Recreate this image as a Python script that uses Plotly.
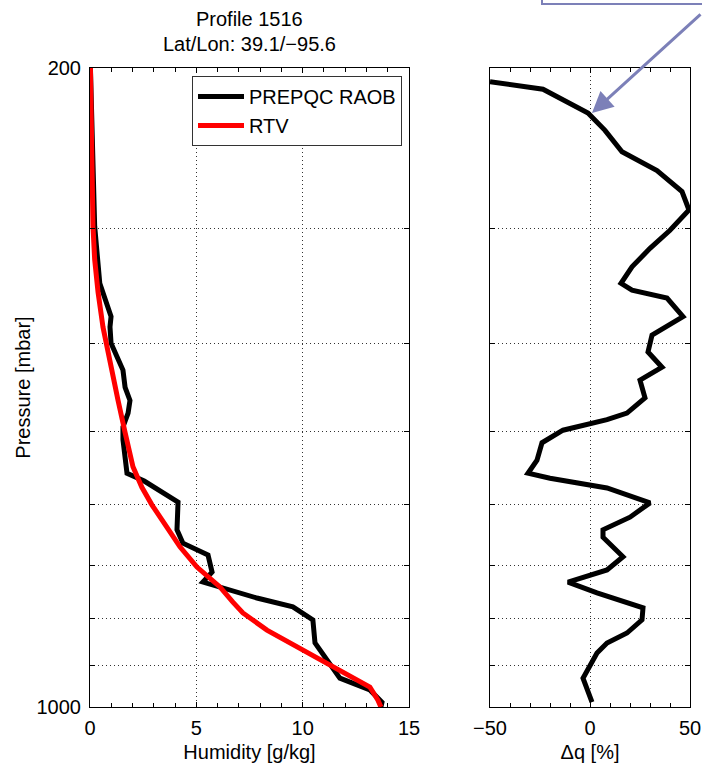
import math
import plotly.graph_objects as go

# ---------------- data ----------------
p_raob = [200, 274, 298, 344, 365, 374, 384, 400, 414, 428, 447, 462, 477, 494, 510, 533, 555,
          566, 597, 640, 662, 682, 712, 730, 741, 760, 777, 803, 851, 904, 930, 958, 988, 1000]
q_raob = [0.02, 0.14, 0.22, 0.46, 0.85, 0.99, 0.94, 0.99, 1.27, 1.55, 1.65, 1.88, 1.79, 1.55, 1.55,
          1.65, 1.74, 2.55, 4.14, 4.09, 4.37, 5.55, 5.74, 5.31, 6.25, 7.85, 9.54, 10.48, 10.58,
          11.42, 11.75, 13.16, 13.73, 13.68]

p_rtv = [200, 252, 298, 324, 352, 384, 410, 425, 462, 501, 546, 575, 601, 636, 668, 703, 739,
         768, 789, 824, 860, 904, 951, 983, 1000]
q_rtv = [0.02, 0.07, 0.14, 0.22, 0.38, 0.61, 0.85, 0.99, 1.32, 1.65, 2.02, 2.44, 2.91, 3.62, 4.23,
         5.03, 6.11, 6.72, 7.19, 8.32, 9.73, 11.42, 13.16, 13.54, 13.68]

p_dq = [207, 211, 224, 234, 247, 259, 273, 286, 301, 315, 330, 344, 350, 357, 374, 392, 409, 425,
        439, 448, 459, 477, 485, 498, 514, 537, 555, 562, 576, 598, 620, 640, 652, 685, 708, 730,
        750, 779, 803, 830, 851, 873, 930, 988]
dq = [-50, -23.5, -1, 7.5, 16, 33.5, 46, 49.5, 40, 30, 21, 15.5, 21, 38.5, 46.5, 31, 29, 36, 25,
      26, 27.5, 18.5, 8.5, -13.5, -24, -26.5, -31, -20, 8.5, 30, 20, 6.5, 6.5, 16.5, 8.5, -11,
      3.5, 26.5, 26, 18.5, 8.5, 3.5, -3.5, 1]

p_ticks = [200, 300, 400, 500, 600, 700, 800, 900, 1000]
p_ticktext = ["200", "", "", "", "", "", "", "", "1000"]
q_ticks = [0, 5, 10, 15]
dq_ticks = [-50, 0, 50]

title_lines = ["Profile 1516", "Lat/Lon: 39.1/\u221295.6"]

# ---------------- figure ----------------
FONT = "Liberation Sans, Arial, Helvetica, sans-serif"
FS = 20
W, H = 702, 767
ML, MR, MT, MB = 90, 12, 68, 60
PW = W - ML - MR
PH = H - MT - MB
ARROW_COL = "#7c80b8"
LW = 5

fig = go.Figure()
fig.add_trace(go.Scatter(x=q_raob, y=p_raob, mode="lines", name="PREPQC RAOB",
                         line=dict(color="black", width=LW), xaxis="x", yaxis="y"))
fig.add_trace(go.Scatter(x=q_rtv, y=p_rtv, mode="lines", name="RTV",
                         line=dict(color="#ff0000", width=LW), xaxis="x", yaxis="y"))
fig.add_trace(go.Scatter(x=dq, y=p_dq, mode="lines", showlegend=False,
                         line=dict(color="black", width=LW), xaxis="x2", yaxis="y2"))

common_axis = dict(showline=True, linecolor="black", linewidth=1, mirror="allticks",
                   ticks="inside", ticklen=5, tickcolor="black", zeroline=False,
                   automargin=False,
                   showgrid=True, gridcolor="#333333", gridwidth=1, griddash="1px,3px",
                   tickfont=dict(family=FONT, size=FS, color="black"))

yrange = [math.log10(1000), math.log10(200)]

fig.update_layout(
    width=W, height=H,
    margin=dict(l=ML, r=MR, t=MT, b=MB),
    paper_bgcolor="white", plot_bgcolor="white",
    font=dict(family=FONT, size=FS, color="black"),
    showlegend=True,
    legend=dict(x=(402 - ML) / PW, xanchor="right", y=1 - (76 - MT) / PH, yanchor="top",
                bgcolor="white", bordercolor="#333333", borderwidth=1, itemwidth=46,
                font=dict(family=FONT, size=FS, color="black"), tracegroupgap=0),
    xaxis=dict(domain=[0, (409 - ML) / PW], range=[0, 15], tickvals=q_ticks,
               minor=dict(dtick=1, ticks="inside", ticklen=4, tickcolor="black", showgrid=False),
               title=dict(text="Humidity [g/kg]", font=dict(family=FONT, size=FS), standoff=6),
               ticklabelstandoff=3, anchor="y", **common_axis),
    yaxis=dict(type="log", range=yrange, tickvals=p_ticks, ticktext=p_ticktext,
               title=dict(text="Pressure [mbar]", font=dict(family=FONT, size=FS), standoff=0),
               ticklabelstandoff=4, anchor="x", **common_axis),
    xaxis2=dict(domain=[(490 - ML) / PW, 1], range=[-50, 50], tickvals=dq_ticks,
                minor=dict(dtick=10, ticks="inside", ticklen=4, tickcolor="black", showgrid=False),
                title=dict(text="\u0394q [%]", font=dict(family=FONT, size=FS), standoff=6),
                ticklabelstandoff=3, anchor="y2", **common_axis),
    yaxis2=dict(type="log", range=yrange, tickvals=p_ticks, showticklabels=False,
                anchor="x2", **common_axis),
)

# titles above left panel
fig.add_annotation(text=title_lines[0], xref="x domain", x=0.5, yref="paper",
                   y=1 + (MT - 19) / PH, yanchor="middle", showarrow=False,
                   font=dict(family=FONT, size=FS, color="black"))
fig.add_annotation(text=title_lines[1], xref="x domain", x=0.5, yref="paper",
                   y=1 + (MT - 44) / PH, yanchor="middle", showarrow=False,
                   font=dict(family=FONT, size=FS, color="black"))

# callout box (mostly above the image) and arrow
fig.add_shape(type="rect", xref="paper", yref="paper",
              x0=(542 - ML) / PW, x1=1.3, y0=1 + (MT - 4) / PH, y1=1.4,
              line=dict(color=ARROW_COL, width=2), fillcolor="rgba(0,0,0,0)")
fig.add_annotation(text="", x=1, y=math.log10(224), xref="x2", yref="y2",
                   showarrow=True, ax=130, ay=-100, axref="pixel", ayref="pixel",
                   arrowhead=2, arrowsize=1.4, arrowwidth=3, arrowcolor=ARROW_COL, standoff=0)

fig.write_html("out.html")
